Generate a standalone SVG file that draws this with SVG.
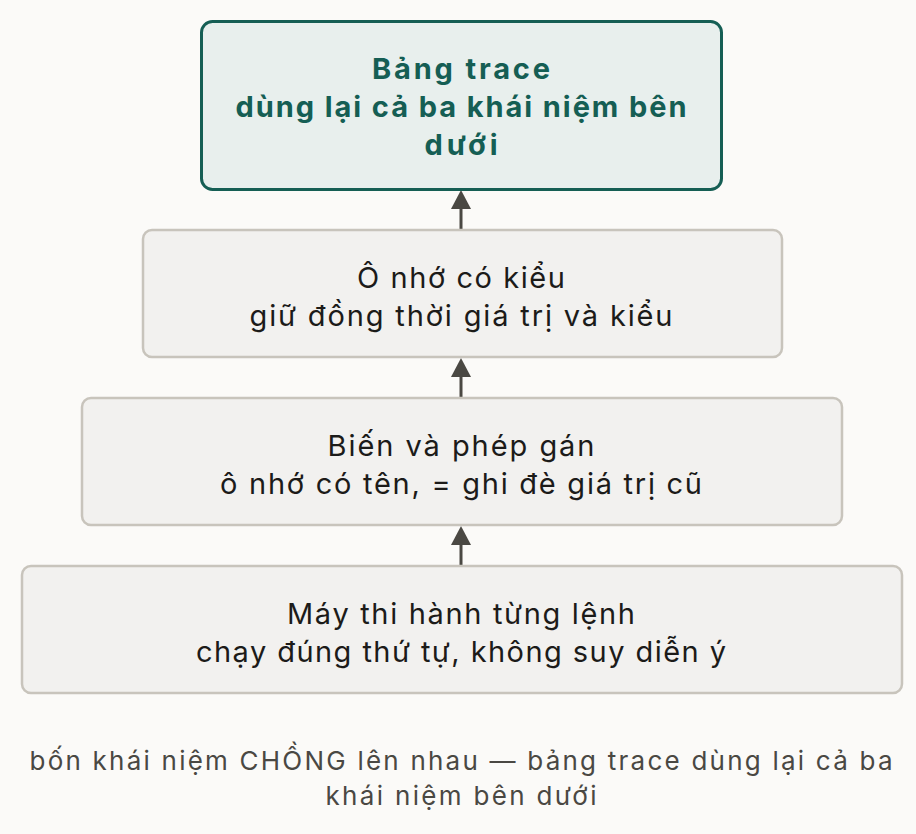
<svg xmlns="http://www.w3.org/2000/svg" width="916" height="834" viewBox="0 0 916 834">
<defs>
<style>
.box{fill:#f2f1ef;stroke:#c8c4bc;stroke-width:2.5}
.top{fill:#e8efed;stroke:#155e54;stroke-width:3}
.t{font-family:Inter,"Noto Sans",sans-serif;font-size:29px;fill:#1c1b19;text-anchor:middle}
.tb{font-family:Inter,"Noto Sans",sans-serif;font-size:29px;font-weight:bold;fill:#155e54;text-anchor:middle}
.cap{font-family:Inter,"Noto Sans",sans-serif;font-size:26px;fill:#4a4843;text-anchor:middle}
.c{stroke:#4a4843;stroke-width:3;fill:none}
.ah{fill:#4a4843}
</style>
</defs>
<rect width="916" height="834" fill="#fbfaf8"/>
<g id="connectors">
<line class="c" x1="461" y1="398" x2="461" y2="376"/>
<path class="ah" d="M451,377 L471,377 L461,358 Z"/>
<line class="c" x1="461" y1="566" x2="461" y2="544"/>
<path class="ah" d="M451,545 L471,545 L461,526 Z"/>
<line class="c" x1="461" y1="230" x2="461" y2="208"/>
<path class="ah" d="M451,209 L471,209 L461,190 Z"/>
</g>
<g id="n4">
<rect class="box" x="22" y="566" width="880" height="127" rx="9"/>
<text class="t" x="461" y="624" textLength="348" lengthAdjust="spacing">Máy thi hành từng lệnh</text>
<text class="t" x="461" y="662" textLength="530" lengthAdjust="spacing">chạy đúng thứ tự, không suy diễn ý</text>
</g>
<g id="n3">
<rect class="box" x="82" y="398" width="760" height="127" rx="9"/>
<text class="t" x="461" y="456" textLength="267" lengthAdjust="spacing">Biến và phép gán</text>
<text class="t" x="461" y="494" textLength="482" lengthAdjust="spacing">ô nhớ có tên, = ghi đè giá trị cũ</text>
</g>
<g id="n2">
<rect class="box" x="143" y="230" width="639" height="127" rx="9"/>
<text class="t" x="461" y="288" textLength="208" lengthAdjust="spacing">Ô nhớ có kiểu</text>
<text class="t" x="461" y="326" textLength="423" lengthAdjust="spacing">giữ đồng thời giá trị và kiểu</text>
</g>
<g id="n1">
<rect class="top" x="201.5" y="21.5" width="520" height="168" rx="11"/>
<text class="tb" x="461" y="79" textLength="178" lengthAdjust="spacing">Bảng trace</text>
<text class="tb" x="461" y="117" textLength="451" lengthAdjust="spacing">dùng lại cả ba khái niệm bên</text>
<text class="tb" x="461" y="155" textLength="73" lengthAdjust="spacing">dưới</text>
</g>
<g id="caption">
<text class="cap" x="461" y="770" textLength="863" lengthAdjust="spacing">bốn khái niệm CHỒNG lên nhau — bảng trace dùng lại cả ba</text>
<text class="cap" x="461" y="805" textLength="271" lengthAdjust="spacing">khái niệm bên dưới</text>
</g>
</svg>
